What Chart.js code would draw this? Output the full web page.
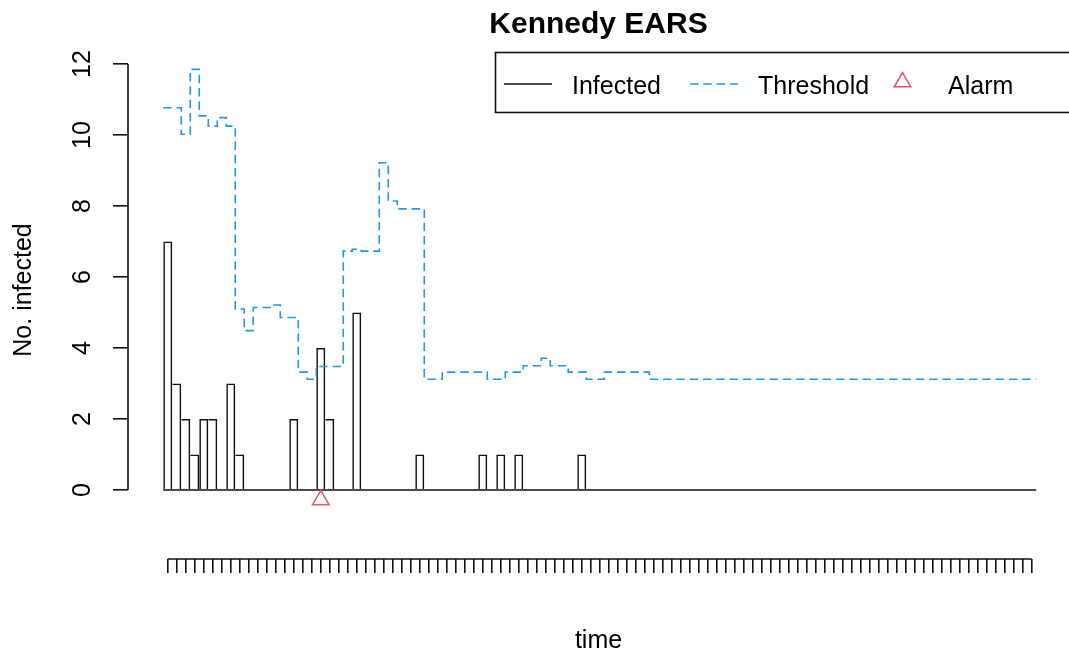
<!DOCTYPE html>
<html>
<head>
<meta charset="utf-8">
<script src="https://cdn.jsdelivr.net/npm/chart.js@4.4.1/dist/chart.umd.min.js"></script>
<style>
  html, body { margin: 0; padding: 0; background: #ffffff; overflow: hidden; }
  #wrap { width: 1069px; height: 655px; }
</style>
</head>
<body>
<div id="wrap"><canvas id="chart" width="1069" height="655"></canvas></div>
<script>
// Weekly counts of infected cases (one value per time point)
const infected = [
  7, 3, 2, 1, 2, 2, 0, 3, 1, 0,
  0, 0, 0, 0, 2, 0, 0, 4, 2, 0,
  0, 5, 0, 0, 0, 0, 0, 0, 1, 0,
  0, 0, 0, 0, 0, 1, 0, 1, 0, 1,
  0, 0, 0, 0, 0, 0, 1, 0, 0, 0,
  0, 0, 0, 0, 0, 0, 0, 0, 0, 0,
  0, 0, 0, 0, 0, 0, 0, 0, 0, 0,
  0, 0, 0, 0, 0, 0, 0, 0, 0, 0,
  0, 0, 0, 0, 0, 0, 0, 0, 0, 0,
  0, 0, 0, 0, 0, 0, 0
];

// EARS upper threshold for each time point
const threshold = [
  10.77, 10.77, 10.02, 11.85, 10.54, 10.25, 10.49, 10.25, 5.10, 4.49,
  5.14, 5.14, 5.21, 4.86, 4.86, 3.32, 3.12, 3.48, 3.48, 3.48,
  6.73, 6.78, 6.73, 6.73, 9.22, 8.14, 7.92, 7.92, 7.92, 3.12,
  3.12, 3.32, 3.32, 3.32, 3.32, 3.32, 3.12, 3.12, 3.32, 3.32,
  3.50, 3.50, 3.71, 3.50, 3.50, 3.32, 3.32, 3.12, 3.12, 3.32,
  3.32, 3.32, 3.32, 3.32, 3.12, 3.12, 3.12, 3.12, 3.12, 3.12,
  3.12, 3.12, 3.12, 3.12, 3.12, 3.12, 3.12, 3.12, 3.12, 3.12,
  3.12, 3.12, 3.12, 3.12, 3.12, 3.12, 3.12, 3.12, 3.12, 3.12,
  3.12, 3.12, 3.12, 3.12, 3.12, 3.12, 3.12, 3.12, 3.12, 3.12,
  3.12, 3.12, 3.12, 3.12, 3.12, 3.12, 3.12
];

// Time points where an alarm was raised, and the level the marker sits at
const alarmTimes = [17];
const alarmLevel = -0.28;

// Axis ticks
const yTicks = [0, 2, 4, 6, 8, 10, 12];
const timeTicks = infected.map((_, i) => i);

const chartTitle = 'Kennedy EARS';
const xTitle = 'time';
const yTitle = 'No. infected';
const legendNames = ['Infected', 'Threshold', 'Alarm'];

const FONT = '"Liberation Sans", Arial, Helvetica, sans-serif';
const INK = '#111111';
const BLUE = '#2297E6';
const RED = '#DF536B';
const DASH = [8.5, 4.8];
const LW = 1.6;

const n = infected.length;

// Threshold as a step line spanning each bar's full width
const thresholdPoints = [{ x: -0.5, y: threshold[0] }]
  .concat(threshold.map((v, i) => ({ x: i, y: v })))
  .concat([{ x: n - 0.5, y: threshold[n - 1] }]);

// Bar outlines: the bottom edge is the shared baseline, and a bar drops its
// left edge when the bar before it is at least as tall (one shared outline)
function barBorder(ctx) {
  const i = ctx.dataIndex;
  const sharedLeft = i > 0 && infected[i - 1] > 0 && infected[i - 1] >= infected[i];
  return { top: LW, right: LW, bottom: 0, left: sharedLeft ? 0 : LW };
}

function drawTriangle(ctx, x, y, r) {
  ctx.beginPath();
  for (let k = 0; k < 3; k++) {
    const a = k * 2 * Math.PI / 3;
    const px = x + Math.sin(a) * r;
    const py = y - Math.cos(a) * r;
    if (k === 0) ctx.moveTo(px, py); else ctx.lineTo(px, py);
  }
  ctx.closePath();
  ctx.stroke();
}

// Axis lines, titles and the boxed legend
const decorations = {
  id: 'decorations',
  afterDraw(chart) {
    const ctx = chart.ctx;
    const xs = chart.scales.x, ys = chart.scales.y;
    const area = chart.chartArea;
    ctx.save();
    ctx.strokeStyle = INK;
    ctx.lineWidth = LW;
    ctx.setLineDash([]);

    // y axis line from first to last tick
    const yTop = ys.getPixelForValue(yTicks[yTicks.length - 1]);
    const yBot = ys.getPixelForValue(yTicks[0]);
    ctx.beginPath();
    ctx.moveTo(area.left, yTop);
    ctx.lineTo(area.left, yBot);
    ctx.stroke();

    // x axis line from first to last tick
    const x0 = xs.getPixelForValue(timeTicks[0]);
    const x1 = xs.getPixelForValue(timeTicks[timeTicks.length - 1]);
    ctx.beginPath();
    ctx.moveTo(x0, area.bottom);
    ctx.lineTo(x1, area.bottom);
    ctx.stroke();

    // Main title
    ctx.fillStyle = '#000';
    ctx.textAlign = 'center';
    ctx.textBaseline = 'alphabetic';
    ctx.font = 'bold 30px ' + FONT;
    const cx = (area.left + area.right) / 2;
    ctx.fillText(chartTitle, cx, 33);

    // Axis titles
    ctx.font = '25px ' + FONT;
    ctx.fillText(xTitle, cx, 648);
    ctx.save();
    ctx.translate(31, 290);
    ctx.rotate(-Math.PI / 2);
    ctx.fillText(yTitle, 0, 0);
    ctx.restore();

    // Legend box
    ctx.lineWidth = LW;
    ctx.strokeStyle = INK;
    ctx.strokeRect(495.5, 52.5, 700, 60);

    const ly = 84;
    const tb = 94;
    ctx.textAlign = 'left';
    ctx.font = '25px ' + FONT;

    ctx.beginPath();
    ctx.moveTo(504, ly);
    ctx.lineTo(552, ly);
    ctx.stroke();
    ctx.fillText(legendNames[0], 572, tb);

    ctx.strokeStyle = BLUE;
    ctx.setLineDash(DASH);
    ctx.beginPath();
    ctx.moveTo(690, ly);
    ctx.lineTo(738, ly);
    ctx.stroke();
    ctx.setLineDash([]);
    ctx.fillText(legendNames[1], 758, tb);

    ctx.strokeStyle = RED;
    ctx.lineWidth = 1.5;
    drawTriangle(ctx, 902.5, 82, 9.5);
    ctx.fillText(legendNames[2], 948, tb);

    ctx.restore();
  }
};

new Chart(document.getElementById('chart'), {
  type: 'bar',
  data: {
    datasets: [
      {
        type: 'bar',
        label: legendNames[0],
        data: infected.map((v, i) => ({ x: i, y: v })),
        backgroundColor: 'rgba(0,0,0,0)',
        borderColor: INK,
        borderWidth: barBorder,
        borderSkipped: false,
        inflateAmount: 0,
        barPercentage: 1,
        categoryPercentage: 1,
        order: 3
      },
      {
        type: 'line',
        label: 'baseline',
        data: [{ x: -0.5, y: 0 }, { x: n - 0.5, y: 0 }],
        borderColor: INK,
        borderWidth: LW,
        pointRadius: 0,
        order: 2
      },
      {
        type: 'line',
        label: legendNames[1],
        data: thresholdPoints,
        stepped: 'middle',
        borderColor: BLUE,
        borderWidth: 1.6,
        borderDash: DASH,
        pointRadius: 0,
        fill: false,
        order: 1
      },
      {
        type: 'line',
        label: legendNames[2],
        data: alarmTimes.map(t => ({ x: t, y: alarmLevel })),
        showLine: false,
        pointStyle: 'triangle',
        pointRadius: 9.5,
        pointBorderColor: RED,
        pointBackgroundColor: 'rgba(0,0,0,0)',
        pointBorderWidth: 1.5,
        order: 0
      }
    ]
  },
  options: {
    responsive: false,
    animation: false,
    devicePixelRatio: 1,
    layout: { autoPadding: false, padding: { top: 45, left: 0, right: 0, bottom: 0 } },
    plugins: {
      legend: { display: false },
      title: { display: false },
      tooltip: { enabled: false }
    },
    scales: {
      x: {
        type: 'linear',
        min: -4.42,
        max: 100.14,
        offset: false,
        afterBuildTicks: s => { s.ticks = timeTicks.map(v => ({ value: v })); },
        afterFit: s => { s.height = 96; },
        grid: { offset: false, drawOnChartArea: false, drawTicks: true, tickLength: 14, color: INK, lineWidth: LW },
        border: { display: false },
        ticks: { callback: () => '', maxRotation: 0, autoSkip: false }
      },
      y: {
        type: 'linear',
        min: -1.944,
        max: 12.536,
        afterBuildTicks: s => { s.ticks = yTicks.map(v => ({ value: v })); },
        afterFit: s => { s.width = 128; },
        grid: { drawOnChartArea: false, drawTicks: true, tickLength: 15, color: INK, lineWidth: LW },
        border: { display: false },
        ticks: {
          minRotation: 90,
          maxRotation: 90,
          crossAlign: 'center',
          padding: 16,
          color: '#000',
          font: { family: FONT, size: 25 }
        }
      }
    }
  },
  plugins: [decorations]
});
</script>
</body>
</html>
